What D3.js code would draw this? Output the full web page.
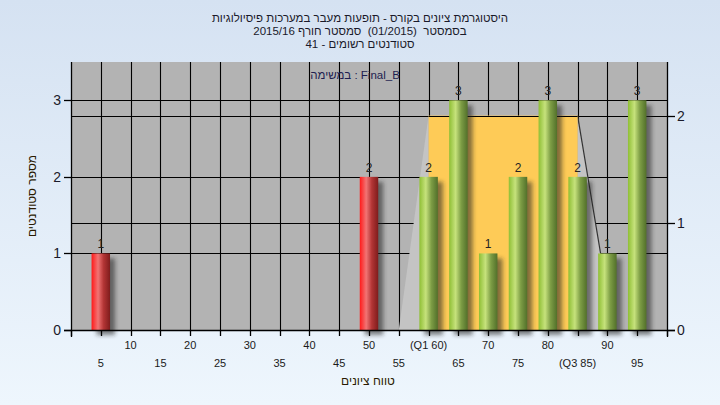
<!DOCTYPE html>
<html><head><meta charset="utf-8">
<script src="https://cdn.jsdelivr.net/npm/d3@7"></script>
<style>
html,body{margin:0;padding:0;}
body{width:720px;height:405px;overflow:hidden;}
text{font-family:"Liberation Sans",Arial,sans-serif;}
.pre{white-space:pre;}
</style></head>
<body>
<svg id="c" width="720" height="405"></svg>
<script>
// ---- data ----
const titleLines = [
  "היסטוגרמת ציונים בקורס - תופעות מעבר במערכות פיסיולוגיות",
  "בסמסטר  (01/2015)  סמסטר חורף 2015/16",
  "סטודנטים רשומים - 41"
];
const assignmentLabel = "במשימה : Final_B";
const scores = [5, 50, 60, 65, 70, 75, 80, 85, 90, 95];
const counts = [1, 2, 2, 3, 1, 2, 3, 2, 1, 3];
const passScore = 55;
const xTickValues = [5,10,15,20,25,30,35,40,45,50,55,60,65,70,75,80,85,90,95];
const xTickLabels = ["5","10","15","20","25","30","35","40","45","50","55","(Q1 60)","65","70","75","80","(Q3 85)","90","95"];
const leftTicks = [0, 1, 2, 3];
const rightTicks = [0, 1, 2];
// box-plot summary (right axis)
const boxQ1 = 60, boxQ3 = 85, boxHeight = 2;
const whiskerLow = 55, whiskerHigh = 91;
const yTitle = "מספר סטודנטים";
const xTitle = "טווח ציונים";

// ---- layout ----
const svg = d3.select("#c");
const L = 71, R = 667, T = 62, B = 330;
const x = d3.scaleLinear().domain([0, 100]).range([L, R]);
const y = d3.scaleLinear().domain([0, 3.5]).range([B, T]);
const y2 = d3.scaleLinear().domain([0, 2.5]).range([B, T]);

const defs = svg.append("defs");
const bg = defs.append("linearGradient").attr("id","bg").attr("x1",0).attr("y1",0).attr("x2",0).attr("y2",1);
bg.append("stop").attr("offset","0%").attr("stop-color","#d5e2f2");
bg.append("stop").attr("offset","100%").attr("stop-color","#eef6fd");

function cyl(id, c0, c1, c2, c3){
  const g = defs.append("linearGradient").attr("id",id).attr("x1",0).attr("y1",0).attr("x2",1).attr("y2",0);
  g.append("stop").attr("offset","0%").attr("stop-color",c0);
  g.append("stop").attr("offset","35%").attr("stop-color",c1);
  g.append("stop").attr("offset","65%").attr("stop-color",c2);
  g.append("stop").attr("offset","100%").attr("stop-color",c3);
}
cyl("gGreen", "#8fbf35", "#c6e27c", "#7d9d45", "#52702a");
cyl("gRed", "#ff1a1a", "#f27474", "#b33535", "#7f1c1c");
const f = defs.append("filter").attr("id","blur").attr("x","-50%").attr("y","-20%").attr("width","200%").attr("height","140%");
f.append("feGaussianBlur").attr("stdDeviation", 2);

svg.append("rect").attr("width",720).attr("height",405).attr("fill","url(#bg)");

// plot area
svg.append("rect").attr("x",L).attr("y",T).attr("width",R-L).attr("height",B-T).attr("fill","#b3b3b3");

// grid
const grid = svg.append("g").attr("stroke","#000").attr("stroke-width",1.1);
grid.selectAll(".vx").data(d3.range(5, 100, 5)).join("line")
  .attr("x1",d=>Math.round(x(d))+0.5).attr("x2",d=>Math.round(x(d))+0.5)
  .attr("y1",T).attr("y2",B);
grid.selectAll(".hl").data(leftTicks.slice(1)).join("line")
  .attr("x1",L).attr("x2",R).attr("y1",d=>Math.round(y(d))+0.5).attr("y2",d=>Math.round(y(d))+0.5);
grid.selectAll(".hr").data(rightTicks.slice(1)).join("line")
  .attr("x1",L).attr("x2",R).attr("y1",d=>Math.round(y2(d))+0.5).attr("y2",d=>Math.round(y2(d))+0.5);

// box plot shapes
svg.append("polygon")
  .attr("points", [[x(whiskerLow), y2(0)], [x(boxQ1), y2(boxHeight)], [x(boxQ1), y2(0)]].map(p=>p.join(",")).join(" "))
  .attr("fill","#c4c4c4");
svg.append("polygon")
  .attr("points", [[x(boxQ3), y2(boxHeight)], [x(whiskerHigh), y2(0)], [x(boxQ3), y2(0)]].map(p=>p.join(",")).join(" "))
  .attr("fill","#c4c4c4");
svg.append("line").attr("x1",x(boxQ3)).attr("y1",y2(boxHeight)).attr("x2",x(whiskerHigh)).attr("y2",y2(0))
  .attr("stroke","#333").attr("stroke-width",1.2);
svg.append("rect").attr("x",x(boxQ1)).attr("y",y2(boxHeight)).attr("width",x(boxQ3)-x(boxQ1)).attr("height",y2(0)-y2(boxHeight))
  .attr("fill","#fecb57");
svg.append("line").attr("x1",x(boxQ1)).attr("x2",x(boxQ3)).attr("y1",Math.round(y2(boxHeight))+0.5).attr("y2",Math.round(y2(boxHeight))+0.5)
  .attr("stroke","#000").attr("stroke-width",1.1);

// bars
const data = scores.map((s,i)=>({s, c:counts[i]}));
const bw = x(3.1) - x(0);
svg.append("g").selectAll("rect").data(data).join("rect")
  .attr("x",d=>x(d.s)-bw/2+5).attr("y",d=>y(d.c)+5).attr("width",bw).attr("height",d=>y(0)-y(d.c))
  .attr("fill","#222").attr("opacity",0.55).attr("filter","url(#blur)");
svg.append("g").selectAll("rect").data(data).join("rect")
  .attr("x",d=>x(d.s)-bw/2).attr("y",d=>y(d.c)).attr("width",bw).attr("height",d=>y(0)-y(d.c))
  .attr("fill",d=>d.s < passScore ? "url(#gRed)" : "url(#gGreen)");
svg.append("g").selectAll("text").data(data).join("text")
  .attr("x",d=>x(d.s)).attr("y",d=>y(d.c)-5).attr("text-anchor","middle")
  .attr("font-size",12).attr("fill","#222").text(d=>d.c);

// axes lines
const ax = svg.append("g").attr("stroke","#000").attr("stroke-width",1.3);
ax.append("line").attr("x1",L-7).attr("x2",R+8).attr("y1",B+0.5).attr("y2",B+0.5);
ax.append("line").attr("x1",L+0.5).attr("x2",L+0.5).attr("y1",T).attr("y2",B+7);
ax.append("line").attr("x1",R+0.5).attr("x2",R+0.5).attr("y1",T).attr("y2",B+7);
ax.selectAll(".xt").data(d3.range(0, 101, 5)).join("line")
  .attr("x1",d=>Math.round(x(d))+0.5).attr("x2",d=>Math.round(x(d))+0.5).attr("y1",B).attr("y2",B+6);
ax.selectAll(".lt").data(leftTicks).join("line")
  .attr("x1",L-7).attr("x2",L).attr("y1",d=>Math.round(y(d))+0.5).attr("y2",d=>Math.round(y(d))+0.5);
ax.selectAll(".rt").data(rightTicks).join("line")
  .attr("x1",R).attr("x2",R+8).attr("y1",d=>Math.round(y2(d))+0.5).attr("y2",d=>Math.round(y2(d))+0.5);

// tick labels
svg.append("g").selectAll("text").data(leftTicks).join("text")
  .attr("x",L-10).attr("y",d=>y(d)+5).attr("text-anchor","end").attr("font-size",14).attr("fill","#1a1a2a").text(d=>d);
svg.append("g").selectAll("text").data(rightTicks).join("text")
  .attr("x",R+10).attr("y",d=>y2(d)+5).attr("text-anchor","start").attr("font-size",14).attr("fill","#1a1a2a").text(d=>d);
svg.append("g").selectAll("text").data(xTickValues).join("text")
  .attr("x",d=>x(d)).attr("y",(d,i)=> (i%2===1) ? 349 : 367)
  .attr("text-anchor","middle").attr("font-size",11).attr("fill","#1a1a1a")
  .text((d,i)=>xTickLabels[i]);

// titles
svg.append("g").selectAll("text").data(titleLines).join("text")
  .attr("class","pre")
  .attr("x",360).attr("y",(d,i)=>22+i*13).attr("text-anchor","middle").attr("direction","rtl")
  .attr("font-size",11.5).attr("fill","#1a1a2a").text(d=>d);
svg.append("text").attr("class","pre").attr("x",355).attr("y",79).attr("text-anchor","middle").attr("direction","ltr")
  .attr("font-size",11.5).attr("fill","#1e1e50").text(assignmentLabel);
svg.append("text").attr("transform","translate(36,196) rotate(-90)").attr("text-anchor","middle").attr("direction","rtl")
  .attr("font-size",12).attr("fill","#2a1a00").text(yTitle);
svg.append("text").attr("x",368).attr("y",385).attr("text-anchor","middle").attr("direction","rtl")
  .attr("font-size",12).attr("fill","#2a1a00").text(xTitle);
</script>
</body></html>
